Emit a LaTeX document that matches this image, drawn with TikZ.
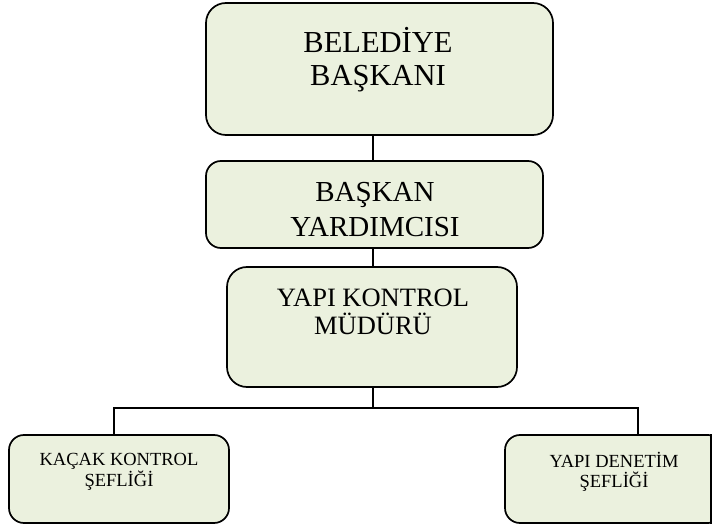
\documentclass[tikz,border=0pt]{standalone}
\usepackage{fontspec}
\setmainfont{Liberation Serif}
\definecolor{boxfill}{HTML}{EBF1DE}
\begin{document}
\begin{tikzpicture}[x=1pt,y=-1pt,
  orgbox/.style={draw=black,line width=1.7pt,fill=boxfill,rectangle,inner sep=0pt},
  conn/.style={draw=black,line width=2.4pt},
  lbl/.style={align=center,inner sep=0pt,text=black}]
\useasboundingbox (0,0) rectangle (712,529);
\clip (0,0) rectangle (712,529);
% boxes
\node[orgbox,rounded corners=20pt,minimum width=347pt,minimum height=132pt] (baskan) at (379.5,69) {};
\node[orgbox,rounded corners=15pt,minimum width=337pt,minimum height=87pt] (yard) at (374.5,204.5) {};
\node[orgbox,rounded corners=20pt,minimum width=290pt,minimum height=120pt] (mudur) at (372,327) {};
\node[orgbox,rounded corners=15pt,minimum width=220pt,minimum height=88pt] (kacak) at (119,479) {};
\node[orgbox,rounded corners=15pt,minimum width=218pt,minimum height=88pt] (denetim) at (614,479) {};
\draw[line width=1.7pt] (denetim.north -| 711,0) -- (denetim.south -| 711,0);
% labels
\node[lbl,font=\fontsize{30.5}{33}\selectfont] (t1) at (378,59.5) {BELEDİYE\\BAŞKANI};
\node[lbl,font=\fontsize{29}{35}\selectfont] (t2) at (375,209.5) {BAŞKAN\\YARDIMCISI};
\node[lbl,font=\fontsize{26.5}{28}\selectfont] (t3) at (373,312) {YAPI KONTROL\\MÜDÜRÜ};
\node[lbl,font=\fontsize{18.5}{20.5}\selectfont] (t4) at (119,472) {KAÇAK KONTROL\\ŞEFLİĞİ};
\node[lbl,font=\fontsize{18.5}{20.5}\selectfont] (t5) at (614,472) {YAPI DENETİM\\ŞEFLİĞİ};
% connectors
\coordinate (spine) at (373,0);
\coordinate (bus) at (373,408);
\coordinate (busL) at (114,408);
\coordinate (busR) at (638,408);
\draw[conn] (baskan.south -| spine) -- (yard.north -| spine);
\draw[conn] (yard.south -| spine) -- (mudur.north -| spine);
\draw[conn] (mudur.south -| spine) -- (bus);
\draw[conn] (busL |- kacak.north) -- (busL) -- (busR) -- (busR |- denetim.north);
\end{tikzpicture}
\end{document}
